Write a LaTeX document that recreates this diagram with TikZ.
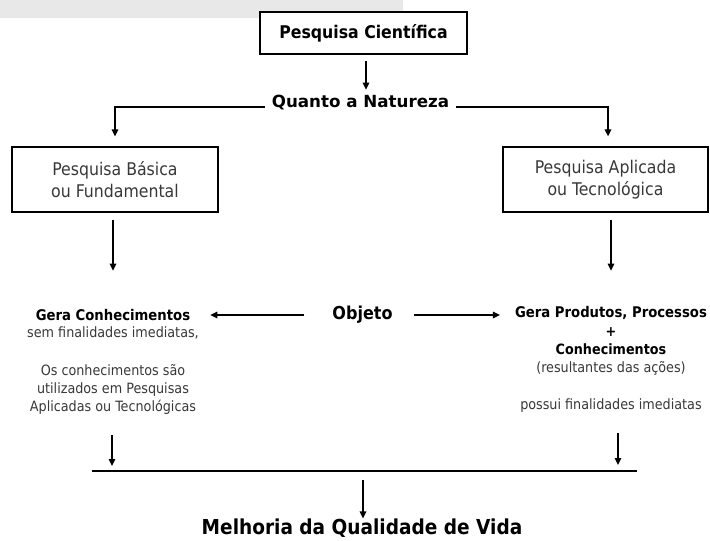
\documentclass[tikz,border=0pt]{standalone}
\usepackage{fontspec}
\setmainfont{DejaVu Sans Condensed}
\newfontfamily\widefont{DejaVu Sans}
\usetikzlibrary{arrows.meta,calc}
\definecolor{txtgray}{HTML}{383838}
\definecolor{bargray}{HTML}{E8E8E8}
\begin{document}
\begin{tikzpicture}[x=1pt,y=-1pt,
  arr/.style={line width=1.4pt,-{Triangle[length=7pt,width=6.5pt]}},
  boxstyle/.style={draw,line width=1.3pt,fill=white,align=center,inner sep=0pt},
  boldtxt/.style={font=\bfseries\fontsize{14.7}{18}\selectfont,inner sep=0pt},
  regtxt/.style={font=\fontsize{14.2}{18}\selectfont,text=txtgray,inner sep=0pt,align=center}]
\useasboundingbox (0,0) rectangle (710,541);
\fill[bargray] (0,0) rectangle (403,18);
% top
\node[boxstyle,minimum width=207pt,minimum height=42pt,font=\bfseries\fontsize{17.5}{20}\selectfont] (pc) at (363.5,33) {Pesquisa Científica};
\node[font=\widefont\bfseries\fontsize{16.7}{20}\selectfont,inner xsep=7pt,inner ysep=0pt] (qn) at (360.5,103) {Quanto a Natureza};
\node[boxstyle,minimum width=206pt,minimum height=65pt,font=\fontsize{17.5}{22}\selectfont,text=txtgray] (lb) at (115,179.5) {Pesquisa Básica\\ou Fundamental};
\node[boxstyle,minimum width=205pt,minimum height=65pt,font=\fontsize{17.5}{22}\selectfont,text=txtgray] (rb) at (605.5,179.5) {Pesquisa Aplicada\\ou Tecnológica};
\draw[arr] ([xshift=2.5pt,yshift=-6pt]pc.south) -- ([xshift=2.5pt,yshift=-35pt]pc.south);
\draw[arr] ([yshift=-4pt]qn.west) -| ([yshift=10pt]lb.north);
\draw[arr] ([yshift=-4pt]qn.east) -| ([xshift=2.5pt,yshift=10pt]rb.north);
\draw[arr] ([xshift=-2pt,yshift=-7pt]lb.south) -- ([xshift=-2pt,yshift=-58pt]lb.south);
\draw[arr] ([xshift=5.5pt,yshift=-7pt]rb.south) -- ([xshift=5.5pt,yshift=-58pt]rb.south);
% middle
\node[font=\bfseries\fontsize{17.8}{20}\selectfont,inner sep=0pt] (ob) at (362.5,315) {Objeto};
\node[boldtxt] (gc) at (113,315) {Gera Conhecimentos};
\node[regtxt,anchor=base] (gcr) at (113,411) {sem finalidades imediatas,\\[20pt]Os conhecimentos são\\utilizados em Pesquisas\\Aplicadas ou Tecnológicas};
\node[boldtxt] (gp) at (611,313) {Gera Produtos, Processos};
\node[regtxt,anchor=base] (gpr) at (611,409) {\textbf{\textcolor{black}{+}}\\\textbf{\textcolor{black}{Conhecimentos}}\\(resultantes das ações)\\[19pt]possui finalidades imediatas};
\draw[arr] ([xshift=-28pt]ob.west) -- ([xshift=20pt]gc.east |- ob.west);
\draw[arr] ([xshift=21pt]ob.east) -- ([xshift=-15pt]gp.west |- ob.east);
% bottom
\node[font=\bfseries\fontsize{20.6}{24}\selectfont,inner sep=0pt] (mq) at (362,528) {Melhoria da Qualidade de Vida};
\coordinate (la1) at (112,435);
\coordinate (la2) at (112,466);
\coordinate (ra1) at (618,433);
\coordinate (ra2) at (618,465);
\coordinate (bl) at (92,471);
\coordinate (br) at (637,471);
\coordinate (bm) at (363,471);
\draw[line width=1.6pt] (bl) -- (br);
\draw[arr] (la1) -- (la2);
\draw[arr] (ra1) -- (ra2);
\draw[arr] ([yshift=-9pt]bm) -- (mq.north -| bm);
\end{tikzpicture}
\end{document}
